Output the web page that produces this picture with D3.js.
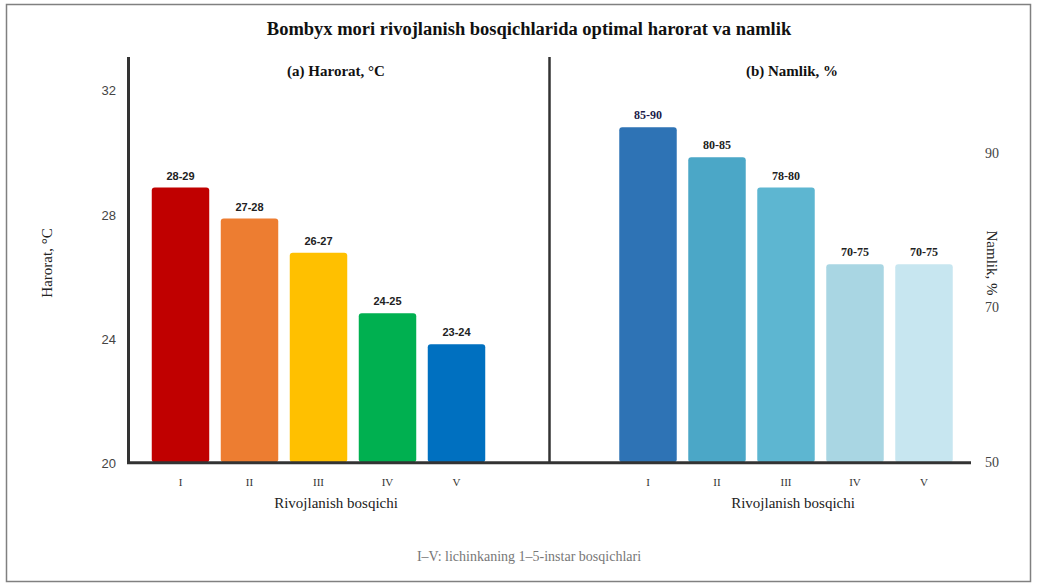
<!DOCTYPE html>
<html>
<head>
<meta charset="utf-8">
<script src="https://cdn.jsdelivr.net/npm/d3@7"></script>
<style>
  body { margin: 0; background: #fff; }
  svg { display: block; }
</style>
</head>
<body>
<svg id="chart" width="1037" height="583"></svg>
<script>
// stages (instar I-V)
const stages = ['I', 'II', 'III', 'IV', 'V'];

// temperature panel
const tempValues = [28.85, 27.85, 26.75, 24.8, 23.8];
const tempLabels = ['28-29', '27-28', '26-27', '24-25', '23-24'];
const tempColors = ['#c00000', '#ed7d31', '#ffc000', '#00b050', '#0070c0'];
const tempTicks = [20, 24, 28, 32];

// humidity panel
const humValues = [93.3, 89.4, 85.5, 75.6, 75.6];
const humLabels = ['85-90', '80-85', '78-80', '70-75', '70-75'];
const humColors = ['#2e73b5', '#4ba7c7', '#5db6d1', '#a9d6e3', '#c7e6f0'];
const humTicks = [50, 70, 90];

const serif = "'Liberation Serif', 'Times New Roman', serif";
const sans = "'Liberation Sans', Arial, sans-serif";

const svg = d3.select('#chart');

// outer frame
svg.append('rect')
    .attr('x', 6.5).attr('y', 4.5).attr('width', 1024).attr('height', 577)
    .attr('fill', '#fff').attr('stroke', '#808080').attr('stroke-width', 1.5);

svg.append('text')
    .attr('x', 529).attr('y', 35)
    .attr('text-anchor', 'middle')
    .style('font-family', serif).style('font-weight', 'bold').style('font-size', '18.5px')
    .attr('fill', '#111')
    .text('Bombyx mori rivojlanish bosqichlarida optimal harorat va namlik');

const baseY = 462.3;

// ---- left panel: temperature ----
const xL = d3.scaleBand().domain(stages).range([146, 491]).paddingInner(0.167).paddingOuter(0.0835);
const yL = d3.scaleLinear().domain([20, 32]).range([baseY, 89.7]);

const left = svg.append('g');

left.selectAll('rect.bar')
    .data(tempValues)
    .join('rect')
    .attr('class', 'bar')
    .attr('x', (d, i) => xL(stages[i]))
    .attr('y', d => yL(d))
    .attr('width', xL.bandwidth())
    .attr('height', d => baseY - yL(d))
    .attr('rx', 3)
    .attr('fill', (d, i) => tempColors[i]);

left.selectAll('text.val')
    .data(tempValues)
    .join('text')
    .attr('class', 'val')
    .attr('x', (d, i) => xL(stages[i]) + xL.bandwidth() / 2)
    .attr('y', d => yL(d) - 8)
    .attr('text-anchor', 'middle')
    .style('font-family', sans).style('font-weight', 'bold').style('font-size', '11px')
    .attr('fill', '#222')
    .text((d, i) => tempLabels[i]);

const axL = left.append('g')
    .attr('transform', 'translate(128,1)')
    .call(d3.axisLeft(yL).tickValues(tempTicks).tickSize(0).tickPadding(12));
axL.select('.domain').remove();
axL.selectAll('text').style('font-family', sans).style('font-size', '13px').attr('fill', '#444');

const axXL = left.append('g')
    .attr('transform', `translate(0,${baseY})`)
    .call(d3.axisBottom(xL).tickSize(0).tickPadding(16));
axXL.select('.domain').remove();
axXL.selectAll('text').style('font-family', serif).style('font-size', '11px').attr('fill', '#333');

left.append('text')
    .attr('transform', 'translate(52,263) rotate(-90)')
    .attr('text-anchor', 'middle')
    .style('font-family', serif).style('font-size', '15px').attr('fill', '#222')
    .text('Harorat, °C');

left.append('text')
    .attr('x', 336).attr('y', 76)
    .attr('text-anchor', 'middle')
    .style('font-family', serif).style('font-weight', 'bold').style('font-size', '15px')
    .attr('fill', '#111')
    .text('(a) Harorat, °C');

left.append('text')
    .attr('x', 336).attr('y', 508)
    .attr('text-anchor', 'middle')
    .style('font-family', serif).style('font-size', '15px').attr('fill', '#222')
    .text('Rivojlanish bosqichi');

// ---- right panel: humidity ----
const xR = d3.scaleBand().domain(stages).range([613.5, 958.5]).paddingInner(0.167).paddingOuter(0.0835);
const yR = d3.scaleLinear().domain([50, 90]).range([baseY, 152.7]);

const right = svg.append('g');

right.selectAll('rect.bar')
    .data(humValues)
    .join('rect')
    .attr('class', 'bar')
    .attr('x', (d, i) => xR(stages[i]))
    .attr('y', d => yR(d))
    .attr('width', xR.bandwidth())
    .attr('height', d => baseY - yR(d))
    .attr('rx', 3)
    .attr('fill', (d, i) => humColors[i]);

right.selectAll('text.val')
    .data(humValues)
    .join('text')
    .attr('class', 'val')
    .attr('x', (d, i) => xR(stages[i]) + xR.bandwidth() / 2)
    .attr('y', d => yR(d) - 8)
    .attr('text-anchor', 'middle')
    .style('font-family', serif).style('font-weight', 'bold').style('font-size', '12px')
    .attr('fill', (d, i) => i === 0 ? '#1c1c4a' : '#222')
    .text((d, i) => humLabels[i]);

const axR = right.append('g')
    .attr('transform', 'translate(971,0)')
    .call(d3.axisRight(yR).tickValues(humTicks).tickSize(0).tickPadding(14));
axR.select('.domain').remove();
axR.selectAll('text').style('font-family', serif).style('font-size', '14px').attr('fill', '#444');

const axXR = right.append('g')
    .attr('transform', `translate(0,${baseY})`)
    .call(d3.axisBottom(xR).tickSize(0).tickPadding(16));
axXR.select('.domain').remove();
axXR.selectAll('text').style('font-family', serif).style('font-size', '11px').attr('fill', '#333');

right.append('text')
    .attr('transform', 'translate(987,263) rotate(90)')
    .attr('text-anchor', 'middle')
    .style('font-family', serif).style('font-size', '15px').attr('fill', '#222')
    .text('Namlik, %');

right.append('text')
    .attr('x', 792).attr('y', 76)
    .attr('text-anchor', 'middle')
    .style('font-family', serif).style('font-weight', 'bold').style('font-size', '15px')
    .attr('fill', '#111')
    .text('(b) Namlik, %');

right.append('text')
    .attr('x', 793).attr('y', 508)
    .attr('text-anchor', 'middle')
    .style('font-family', serif).style('font-size', '15px').attr('fill', '#222')
    .text('Rivojlanish bosqichi');

// axis lines
const lineColor = '#333';
svg.append('line').attr('x1', 128.5).attr('x2', 128.5).attr('y1', 57).attr('y2', 463.8)
    .attr('stroke', lineColor).attr('stroke-width', 3);
svg.append('line').attr('x1', 549.5).attr('x2', 549.5).attr('y1', 57).attr('y2', 463.8)
    .attr('stroke', lineColor).attr('stroke-width', 2.5);
svg.append('line').attr('x1', 127).attr('x2', 971).attr('y1', baseY + 0.5).attr('y2', baseY + 0.5)
    .attr('stroke', lineColor).attr('stroke-width', 3);

svg.append('text')
    .attr('x', 529).attr('y', 561)
    .attr('text-anchor', 'middle')
    .style('font-family', serif).style('font-size', '14px').attr('fill', '#777')
    .text('I–V: lichinkaning 1–5-instar bosqichlari');
</script>
</body>
</html>
